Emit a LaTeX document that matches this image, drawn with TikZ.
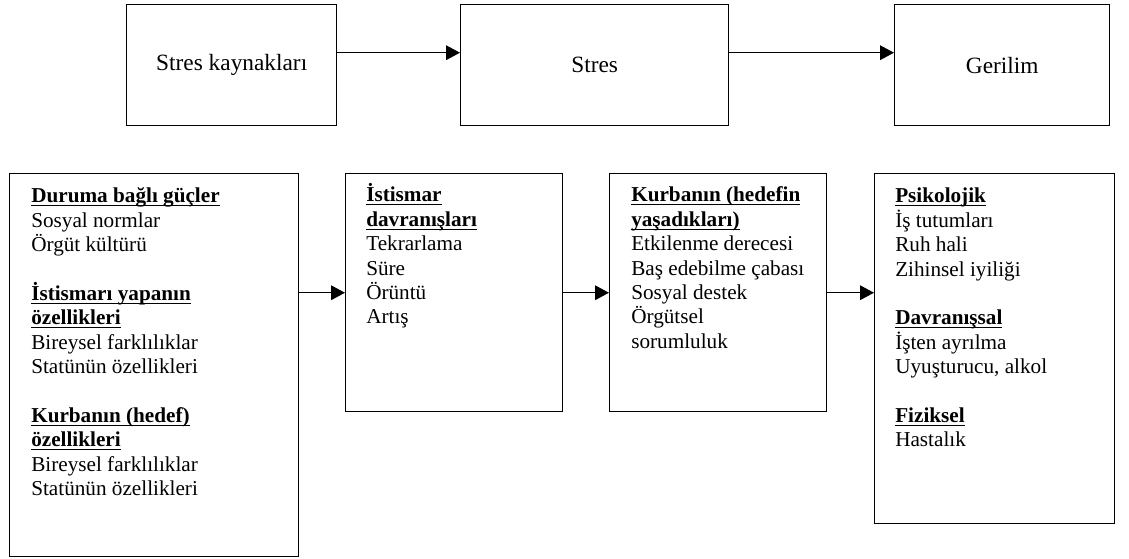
\documentclass[tikz,border=0pt]{standalone}
\usepackage{fontspec}
\setmainfont{Liberation Serif}
\usetikzlibrary{arrows.meta}
\newcommand\hdr[1]{\setbox0\hbox{\bfseries #1}\rlap{\rule[-2.6pt]{\wd0}{0.8pt}}\box0}
\newcommand\fst{\rule{0pt}{14pt}}
\begin{document}
\begin{tikzpicture}[x=0.75pt,y=-0.75pt,
  box/.style={draw, line width=1.1pt, inner sep=0pt, anchor=north west},
  lbl/.style={anchor=north west, align=left, inner sep=0pt, font=\fontsize{15.9pt}{18.3pt}\selectfont},
  toptxt/.style={font=\fontsize{17.5pt}{20pt}\selectfont},
  arr/.style={-{Triangle[length=10.5pt,width=11pt]}, line width=1pt}]
\useasboundingbox (0,0) rectangle (1129,558);
% top row
\node[box, minimum width=157.5pt, minimum height=90.75pt] (t1) at (126,4) {};
\node[box, minimum width=201pt, minimum height=90.75pt] (t2) at (460,4) {};
\node[box, minimum width=161.25pt, minimum height=90.75pt] (t3) at (894,4) {};
\node[toptxt] (t1l) at (t1.center) {Stres kaynakları};
\node[toptxt] (t2l) at (t2.center) {Stres};
\node[toptxt] (t3l) at (t3.center) {Gerilim};
\draw[arr] ([yshift=9.4pt]t1.east) -- ([yshift=9.4pt]t2.west);
\draw[arr] ([yshift=9.4pt]t2.east) -- ([yshift=9.4pt]t3.west);
% bottom row
\node[box, minimum width=216.75pt, minimum height=287.25pt] (a) at (9,173) {};
\node[box, minimum width=162.75pt, minimum height=178.5pt] (b) at (345,173) {};
\node[box, minimum width=162.75pt, minimum height=178.5pt] (c) at (609,173) {};
\node[box, minimum width=180pt, minimum height=262.5pt] (d) at (874,173) {};
\node[lbl] (al) at (31,184) {\fst\hdr{Duruma bağlı güçler}\\
  Sosyal normlar\\
  Örgüt kültürü\\[18.3pt]
  \hdr{İstismarı yapanın}\\
  \hdr{özellikleri}\\
  Bireysel farklılıklar\\
  Statünün özellikleri\\[18.3pt]
  \hdr{Kurbanın (hedef)}\\
  \hdr{özellikleri}\\
  Bireysel farklılıklar\\
  Statünün özellikleri};
\node[lbl] (bl) at (366,183) {\fst\hdr{İstismar}\\
  \hdr{davranışları}\\
  Tekrarlama\\
  Süre\\
  Örüntü\\
  Artış};
\node[lbl] (cl) at (631,183) {\fst\hdr{Kurbanın (hedefin}\\
  \hdr{yaşadıkları)}\\
  Etkilenme derecesi\\
  Baş edebilme çabası\\
  Sosyal destek\\
  Örgütsel\\
  sorumluluk};
\node[lbl] (dl) at (895,184) {\fst\hdr{Psikolojik}\\
  İş tutumları\\
  Ruh hali\\
  Zihinsel iyiliği\\[18.3pt]
  \hdr{Davranışsal}\\
  İşten ayrılma\\
  Uyuşturucu, alkol\\[18.3pt]
  \hdr{Fiziksel}\\
  Hastalık};
\draw[arr] (a.east |- b.west) -- (b.west);
\draw[arr] (b.east) -- (c.west);
\draw[arr] (c.east) -- (c.east -| d.west);
\end{tikzpicture}
\end{document}
